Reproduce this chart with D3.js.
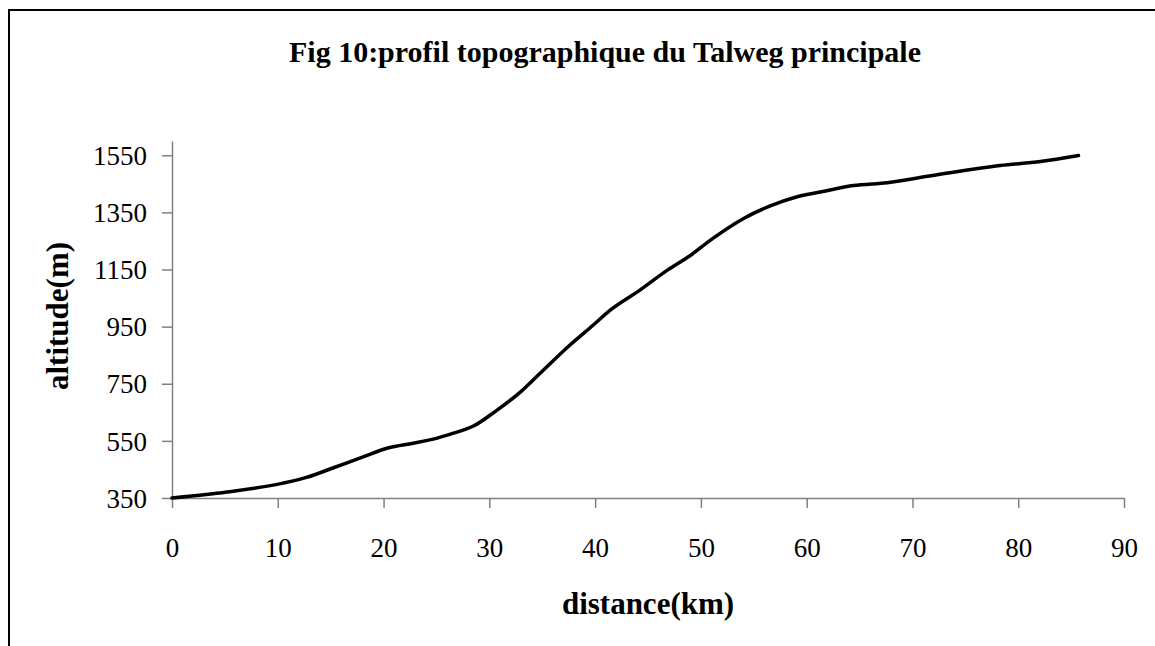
<!DOCTYPE html>
<html>
<head>
<meta charset="utf-8">
<script src="https://cdn.jsdelivr.net/npm/d3@7"></script>
<style>
  body { margin: 0; background: #fff; }
  svg text { font-family: "Liberation Serif", "Times New Roman", serif; fill: #000; }
</style>
</head>
<body>
<div id="chart"></div>
<script>
// profile data
const distance = [0, 5.2, 10.5, 12.8, 15.2, 18, 20.4, 22.8, 24.7, 26.6, 28.5, 30.7, 32.9, 34.8,
  37.6, 39.8, 41.4, 44.2, 46.8, 49, 51.1, 54, 56.5, 59.1, 61.9, 64.4, 67.6, 71.9, 78.3, 82.1, 85.7];
const altitude = [350, 371, 402, 423, 455, 493, 525, 542, 556, 577, 602, 657, 720, 787,
  885, 955, 1007, 1077, 1147, 1199, 1258, 1328, 1372, 1405, 1426, 1444, 1454, 1479, 1514, 1528, 1549];
const xTicks = [0, 10, 20, 30, 40, 50, 60, 70, 80, 90];
const yTicks = [350, 550, 750, 950, 1150, 1350, 1550];

const W = 1155, H = 646;
const svg = d3.select("#chart").append("svg").attr("width", W).attr("height", H);

// outer frame (runs off the right and bottom edges)
svg.append("rect")
  .attr("x", 9).attr("y", 10).attr("width", W + 20).attr("height", H + 20)
  .attr("fill", "none").attr("stroke", "#000").attr("stroke-width", 2);

const x = d3.scaleLinear().domain([0, 90]).range([172, 1124]);
const y = d3.scaleLinear().domain([350, 1600]).range([498, 141]);

const axisColor = "#808080";

// x axis
const gx = svg.append("g").attr("transform", "translate(0,498)")
  .call(d3.axisBottom(x).tickValues(xTicks).tickFormat(d3.format("d"))
    .tickSize(10).tickSizeOuter(0));
gx.select(".domain").attr("stroke", axisColor).attr("stroke-width", 1.5);
gx.selectAll(".tick line").attr("stroke", axisColor).attr("stroke-width", 1.5);
gx.selectAll(".tick text").attr("font-size", 27).attr("y", 59).attr("dy", null);

// y axis
const gy = svg.append("g").attr("transform", "translate(172,0)")
  .call(d3.axisLeft(y).tickValues(yTicks).tickFormat(d3.format("d"))
    .tickSize(10).tickPadding(15).tickSizeOuter(0));
gy.select(".domain").attr("stroke", axisColor).attr("stroke-width", 1.5);
gy.selectAll(".tick line").attr("stroke", axisColor).attr("stroke-width", 1.5);
gy.selectAll(".tick text").attr("font-size", 27).attr("dy", "0.34em");

// profile line
const line = d3.line()
  .x((d, i) => x(distance[i]))
  .y((d) => y(d))
  .curve(d3.curveMonotoneX);

svg.append("path")
  .datum(altitude)
  .attr("d", line)
  .attr("fill", "none")
  .attr("stroke", "#000")
  .attr("stroke-width", 3.5)
  .attr("stroke-linecap", "round")
  .attr("stroke-linejoin", "round");

// titles
svg.append("text")
  .attr("x", 605).attr("y", 62)
  .attr("text-anchor", "middle")
  .attr("font-size", 30).attr("font-weight", "bold")
  .text("Fig 10:profil topographique du Talweg principale");

svg.append("text")
  .attr("x", 648).attr("y", 614)
  .attr("text-anchor", "middle")
  .attr("font-size", 31).attr("font-weight", "bold")
  .text("distance(km)");

svg.append("text")
  .attr("transform", "translate(68,316) rotate(-90)")
  .attr("text-anchor", "middle")
  .attr("font-size", 31).attr("font-weight", "bold")
  .text("altitude(m)");
</script>
</body>
</html>
